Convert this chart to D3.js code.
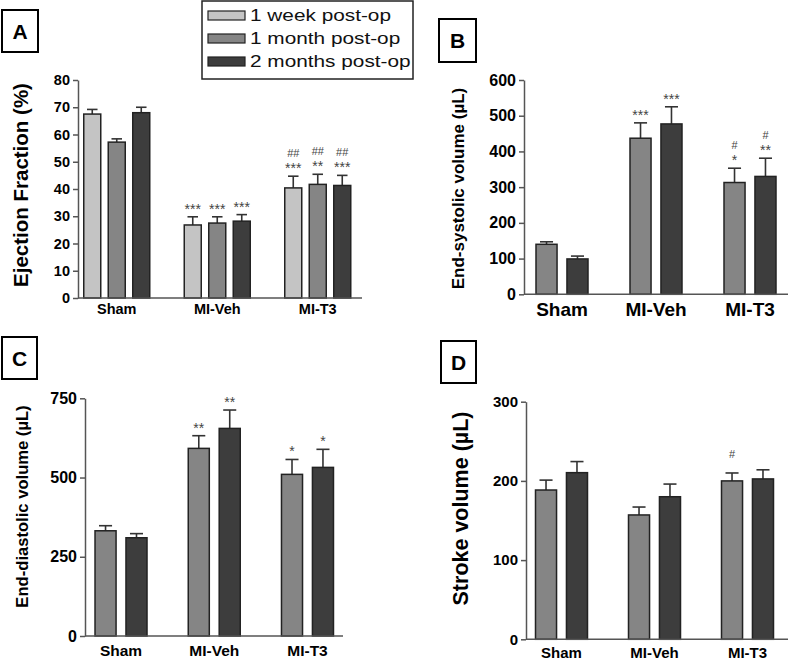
<!DOCTYPE html>
<html>
<head>
<meta charset="utf-8">
<script src="https://cdn.jsdelivr.net/npm/d3@7"></script>
<style>
  body { margin: 0; background: #fff; }
  svg { display: block; font-family: "Liberation Sans", Arial, sans-serif; }
</style>
</head>
<body>
<svg id="chart" width="789" height="661"></svg>
<script>
// groups and series
const groups = ["Sham", "MI-Veh", "MI-T3"];
const seriesAll = ["1 week post-op", "1 month post-op", "2 months post-op"];
const seriesLate = ["1 month post-op", "2 months post-op"];

// A: ejection fraction (%), rows = groups, cols = series
const efMean = [[67.5, 57.2, 68.0], [26.8, 27.5, 28.2], [40.4, 41.7, 41.3]];
const efErr = [[1.7, 1.2, 2.0], [3.0, 2.3, 2.4], [4.3, 3.7, 3.7]];
const efStars = [["", "", ""], ["***", "***", "***"], ["***", "**", "***"]];
const efHash = [["", "", ""], ["", "", ""], ["##", "##", "##"]];
const efTicks = [0, 10, 20, 30, 40, 50, 60, 70, 80];

// B: end-systolic volume
const esvMean = [[140, 99], [437, 477], [313, 330]];
const esvErr = [[7, 8], [43, 48], [40, 51]];
const esvStars = [["", ""], ["***", "***"], ["*", "**"]];
const esvHash = [["", ""], ["", ""], ["#", "#"]];
const esvTicks = [0, 100, 200, 300, 400, 500, 600];

// C: end-diastolic volume
const edvMean = [[332, 310], [592, 655], [510, 532]];
const edvErr = [[16, 13], [40, 58], [47, 57]];
const edvStars = [["", ""], ["**", "**"], ["*", "*"]];
const edvTicks = [0, 250, 500, 750];

// D: stroke volume
const svMean = [[188.5, 210.4], [157, 180], [200, 202.5]];
const svErr = [[12.5, 14], [10, 16], [10, 11.5]];
const svHash = [["", ""], ["", ""], ["#", ""]];
const svTicks = [0, 100, 200, 300];

const fills = ["#c4c4c4", "#858585", "#3d3d3d"];
const color = d3.scaleOrdinal().domain(seriesAll).range(fills);

const svg = d3.select("#chart");

function panel(cfg) {
  const g = svg.append("g");
  const max = cfg.ticks[cfg.ticks.length - 1];
  const y = d3.scaleLinear().domain([0, max]).range([cfg.yBottom, cfg.yTop]);
  const x0 = d3.scaleBand().domain(groups).range(cfg.band);
  const x1 = d3.scaleBand().domain(cfg.keys).range([-cfg.half, cfg.half]).paddingInner(cfg.pad);

  const rows = groups.flatMap((grp, i) => cfg.keys.map((k, j) => ({
    grp: grp, key: k, v: cfg.mean[i][j], e: cfg.err[i][j],
    s: cfg.stars ? cfg.stars[i][j] : "", h: cfg.hash ? cfg.hash[i][j] : ""
  })));
  const cx = d => x0(d.grp) + x0.bandwidth() / 2 + x1(d.key) + x1.bandwidth() / 2;
  const capW = x1.bandwidth() * 0.62;

  // error bars (upper only)
  g.selectAll(".err").data(rows).enter().append("line")
    .attr("x1", cx).attr("x2", cx)
    .attr("y1", d => y(d.v)).attr("y2", d => y(d.v + d.e))
    .attr("stroke", "#333").attr("stroke-width", 1.6);
  g.selectAll(".cap").data(rows).enter().append("line")
    .attr("x1", d => cx(d) - capW / 2).attr("x2", d => cx(d) + capW / 2)
    .attr("y1", d => y(d.v + d.e)).attr("y2", d => y(d.v + d.e))
    .attr("stroke", "#333").attr("stroke-width", 1.6);

  g.selectAll(".bar").data(rows).enter().append("rect")
    .attr("x", d => cx(d) - x1.bandwidth() / 2)
    .attr("width", x1.bandwidth())
    .attr("y", d => y(d.v))
    .attr("height", d => y(0) - y(d.v))
    .attr("fill", d => color(d.key))
    .attr("stroke", "#222").attr("stroke-width", 1.5);

  // significance marks
  g.selectAll(".star").data(rows.filter(d => d.s)).enter().append("text")
    .attr("x", cx).attr("y", d => y(d.v + d.e) - 3)
    .attr("text-anchor", "middle").style("font-size", "14px").attr("fill", "#444")
    .text(d => d.s);
  g.selectAll(".hash").data(rows.filter(d => d.h)).enter().append("text")
    .attr("x", cx).attr("y", d => y(d.v + d.e) - (d.s ? 19 : 15))
    .attr("text-anchor", "middle").style("font-size", "11px").attr("fill", "#444")
    .text(d => d.h);

  // axes
  const ya = g.append("g").attr("transform", "translate(" + cfg.x + ",0)")
    .call(d3.axisLeft(y).tickValues(cfg.ticks).tickSize(5).tickSizeOuter(0).tickPadding(3));
  ya.selectAll("path, line").attr("stroke", "#555").attr("stroke-width", 1.5);
  ya.selectAll("text").style("font-size", cfg.tickFont + "px").style("font-weight", "bold")
    .attr("fill", "#000").style("font-family", "'Liberation Sans', Arial, sans-serif");

  g.append("line").attr("x1", cfg.x).attr("x2", cfg.xEnd)
    .attr("y1", y(0)).attr("y2", y(0))
    .attr("stroke", "#555").attr("stroke-width", 1.5);

  const xa = g.append("g").attr("transform", "translate(0," + y(0) + ")")
    .call(d3.axisBottom(x0).tickSize(0).tickPadding(cfg.labelPad));
  xa.select(".domain").remove();
  xa.selectAll("text").style("font-size", cfg.labelFont + "px").style("font-weight", "bold")
    .attr("fill", "#000").style("font-family", "'Liberation Sans', Arial, sans-serif");

  g.append("text")
    .attr("transform", "translate(" + cfg.ylab.x + "," + cfg.ylab.y + ") rotate(-90)")
    .attr("text-anchor", "middle").attr("dy", "0.35em")
    .style("font-size", cfg.ylab.size + "px").style("font-weight", "bold")
    .text(cfg.ylab.text);

  // panel letter
  g.append("rect").attr("x", cfg.box[0]).attr("y", cfg.box[1])
    .attr("width", cfg.box[2]).attr("height", cfg.box[3])
    .attr("fill", "#fff").attr("stroke", "#000").attr("stroke-width", 2);
  g.append("text").attr("x", cfg.box[0] + cfg.box[2] / 2).attr("y", cfg.box[1] + cfg.box[3] / 2)
    .attr("text-anchor", "middle").attr("dy", "0.36em")
    .style("font-size", "21px").style("font-weight", "bold")
    .text(cfg.letter);
}

panel({
  letter: "A", box: [2, 10, 36, 42],
  keys: seriesAll, mean: efMean, err: efErr, stars: efStars, hash: efHash, ticks: efTicks,
  x: 78, xEnd: 362, yBottom: 298, yTop: 80, band: [66.5, 368], half: 33, pad: 0.306,
  tickFont: 14.5, labelFont: 14.5, labelPad: 6,
  ylab: { text: "Ejection Fraction (%)", x: 21, y: 185, size: 20.5 }
});
panel({
  letter: "B", box: [439, 19, 37, 43],
  keys: seriesLate, mean: esvMean, err: esvErr, stars: esvStars, hash: esvHash, ticks: esvTicks,
  x: 524, xEnd: 788, yBottom: 294.3, yTop: 80, band: [515, 797], half: 26, pad: 0.32,
  tickFont: 16, labelFont: 19, labelPad: 8,
  ylab: { text: "End-systolic volume (\u00b5L)", x: 458, y: 188.5, size: 17 }
});
panel({
  letter: "C", box: [2, 337, 35, 42],
  keys: seriesLate, mean: edvMean, err: edvErr, stars: edvStars, ticks: edvTicks,
  x: 85, xEnd: 343, yBottom: 636, yTop: 398.3, band: [74.4, 354.1], half: 26, pad: 0.32,
  tickFont: 16, labelFont: 15.5, labelPad: 9,
  ylab: { text: "End-diastolic volume (\u00b5L)", x: 22, y: 506.5, size: 16.6 }
});
panel({
  letter: "D", box: [441, 341, 35, 42],
  keys: seriesLate, mean: svMean, err: svErr, hash: svHash, ticks: svTicks,
  x: 526, xEnd: 788, yBottom: 639.3, yTop: 401.7, band: [515, 794], half: 26, pad: 0.32,
  tickFont: 15, labelFont: 15, labelPad: 8,
  ylab: { text: "Stroke volume (\u00b5L)", x: 460, y: 508.5, size: 21.5 }
});

// legend
const leg = svg.append("g");
leg.append("rect").attr("x", 202).attr("y", 1).attr("width", 211).attr("height", 78)
  .attr("fill", "#fff").attr("stroke", "#222").attr("stroke-width", 1.5);
const li = leg.selectAll(".li").data(seriesAll).enter().append("g")
  .attr("transform", (d, i) => "translate(208," + (15.5 + i * 23) + ")");
li.append("rect").attr("x", 0).attr("y", -4.5).attr("width", 37).attr("height", 9)
  .attr("fill", d => color(d)).attr("stroke", "#222").attr("stroke-width", 1.2);
li.append("text").attr("transform", "translate(42,0) scale(1.3,1)")
  .attr("dy", "0.36em").style("font-size", "16px").attr("fill", "#111")
  .text(d => d);
</script>
</body>
</html>
